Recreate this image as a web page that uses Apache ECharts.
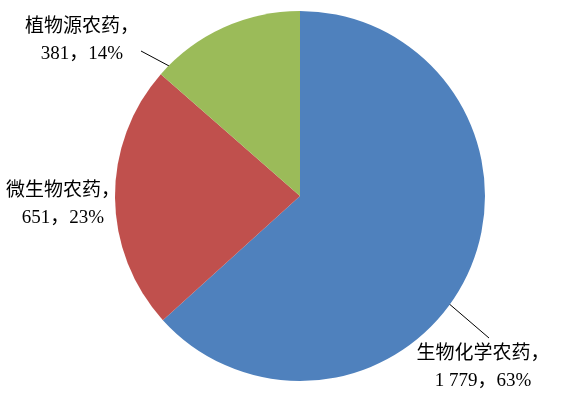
<!DOCTYPE html>
<html>
<head>
<meta charset="utf-8">
<script src="https://cdn.jsdelivr.net/npm/echarts@6/dist/echarts.min.js"></script>
<style>
  html, body { margin: 0; padding: 0; background: #fff; }
  #chart { width: 564px; height: 406px; }
</style>
</head>
<body>
<div id="chart"></div>
<script>
// Pesticide categories and their counts
const categories = ['生物化学农药', '微生物农药', '植物源农药'];
const counts = [1779, 651, 381];
const colors = ['#4F81BD', '#C0504D', '#9BBB59'];

// Label placement (centre of each two-line label) and leader line ends
const labelSpots = [
  { x: 483, y: 368, line: [[447, 302], [489, 338]] },
  { x: 63, y: 205, line: null },
  { x: 82, y: 41, line: [[171, 67], [141, 51]] }
];

const total = counts.reduce((a, b) => a + b, 0);
const fmtNum = v => String(v).replace(/\B(?=(\d{3})+(?!\d))/g, ' ');

const chart = echarts.init(document.getElementById('chart'), null, { renderer: 'canvas' });
chart.setOption({
  animation: false,
  backgroundColor: '#fff',
  series: [{
    type: 'pie',
    center: [300, 196],
    radius: 185,
    startAngle: 90,
    clockwise: true,
    data: categories.map((name, i) => ({
      name,
      value: counts[i],
      itemStyle: { color: colors[i] }
    })),
    itemStyle: { borderWidth: 0 },
    label: {
      show: true,
      position: 'outside',
      alignTo: 'none',
      overflow: 'none',
      formatter: p => p.name + '，\n' + fmtNum(p.value) + '，' + Math.round(p.value / total * 100) + '%',
      fontFamily: '"Liberation Serif", "Noto Sans CJK SC", serif',
      fontSize: 19,
      lineHeight: 27,
      color: '#000',
      align: 'center'
    },
    labelLine: {
      show: true,
      lineStyle: { color: '#000', width: 1 }
    },
    labelLayout: p => {
      const s = labelSpots[p.dataIndex];
      const out = { x: s.x, y: s.y, align: 'center', verticalAlign: 'middle' };
      out.labelLinePoints = s.line ? [s.line[0], s.line[1], s.line[1]] : [[0, 0], [0, 0], [0, 0]];
      return out;
    },
    emphasis: { disabled: true }
  }]
});
</script>
</body>
</html>
